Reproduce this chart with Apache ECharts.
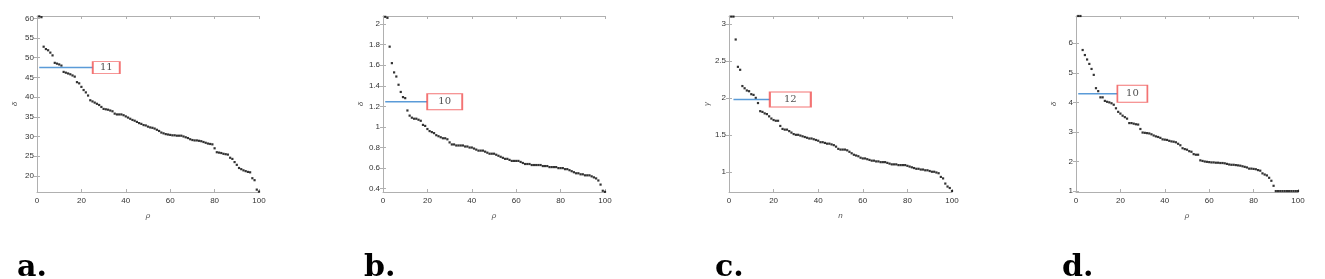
<!DOCTYPE html>
<html>
<head>
<meta charset="utf-8">
<title>decision graphs</title>
<script src="https://cdn.jsdelivr.net/npm/echarts@6/dist/echarts.min.js"></script>
<style>
  html, body { margin: 0; padding: 0; background: #fff; }
  #chart { width: 1325px; height: 279px; }
</style>
</head>
<body>
<div id="chart"></div>
<script>
// values, x = 1..100
var deltaA = [60.5, 60.3, 52.8, 52.2, 51.9, 51.3, 50.6, 48.7, 48.5, 48.3,
  48.0, 46.4, 46.2, 46.0, 45.8, 45.5, 45.2, 43.8, 43.5, 42.6,
  41.8, 41.2, 40.4, 39.2, 38.9, 38.6, 38.3, 38.0, 37.5, 37.0,
  36.9, 36.8, 36.6, 36.4, 35.8, 35.6, 35.6, 35.6, 35.4, 35.1,
  34.8, 34.5, 34.2, 34.0, 33.7, 33.4, 33.2, 32.9, 32.8, 32.5,
  32.3, 32.2, 32.0, 31.7, 31.4, 31.0, 30.8, 30.6, 30.5, 30.4,
  30.3, 30.3, 30.2, 30.2, 30.2, 30.0, 29.8, 29.6, 29.3, 29.1,
  29.0, 29.0, 28.9, 28.8, 28.6, 28.4, 28.2, 28.1, 28.0, 27.0,
  26.0, 25.9, 25.8, 25.6, 25.5, 25.4, 24.6, 24.3, 23.5, 22.8,
  22.0, 21.7, 21.4, 21.2, 21.0, 20.9, 19.4, 18.9, 16.5, 16.0]

var deltaB = [2.07, 2.06, 1.78, 1.62, 1.53, 1.49, 1.41, 1.34, 1.29, 1.28,
  1.16, 1.11, 1.09, 1.08, 1.08, 1.07, 1.06, 1.02, 1.01, 0.98,
  0.96, 0.95, 0.94, 0.92, 0.91, 0.90, 0.89, 0.89, 0.88, 0.85,
  0.83, 0.83, 0.82, 0.82, 0.82, 0.82, 0.81, 0.81, 0.80, 0.80,
  0.79, 0.78, 0.77, 0.77, 0.77, 0.76, 0.75, 0.74, 0.74, 0.74,
  0.73, 0.72, 0.71, 0.70, 0.69, 0.69, 0.68, 0.67, 0.67, 0.67,
  0.67, 0.66, 0.65, 0.64, 0.64, 0.64, 0.63, 0.63, 0.63, 0.63,
  0.63, 0.62, 0.62, 0.62, 0.61, 0.61, 0.61, 0.61, 0.60, 0.60,
  0.60, 0.59, 0.59, 0.58, 0.57, 0.56, 0.55, 0.55, 0.54, 0.54,
  0.53, 0.53, 0.53, 0.52, 0.51, 0.50, 0.48, 0.44, 0.38, 0.37]

var gammaC = [3.10, 3.10, 2.79, 2.42, 2.38, 2.16, 2.13, 2.10, 2.09, 2.05,
  2.04, 2.00, 1.93, 1.82, 1.81, 1.79, 1.78, 1.75, 1.72, 1.70,
  1.69, 1.69, 1.62, 1.58, 1.57, 1.57, 1.55, 1.53, 1.51, 1.50,
  1.50, 1.49, 1.48, 1.47, 1.46, 1.45, 1.45, 1.44, 1.43, 1.42,
  1.40, 1.40, 1.39, 1.38, 1.38, 1.37, 1.36, 1.34, 1.31, 1.30,
  1.30, 1.30, 1.29, 1.27, 1.25, 1.23, 1.22, 1.21, 1.19, 1.18,
  1.18, 1.17, 1.16, 1.15, 1.15, 1.14, 1.14, 1.13, 1.13, 1.13,
  1.12, 1.11, 1.10, 1.10, 1.10, 1.09, 1.09, 1.09, 1.09, 1.08,
  1.07, 1.06, 1.05, 1.04, 1.04, 1.03, 1.03, 1.02, 1.02, 1.01,
  1.00, 1.00, 0.99, 0.98, 0.93, 0.91, 0.84, 0.80, 0.78, 0.74]

var deltaD = [6.92, 6.92, 5.77, 5.60, 5.45, 5.30, 5.13, 4.93, 4.48, 4.38,
  4.17, 4.17, 4.05, 4.02, 4.00, 3.97, 3.92, 3.80, 3.68, 3.62,
  3.55, 3.50, 3.45, 3.30, 3.30, 3.28, 3.26, 3.25, 3.10, 2.98,
  2.97, 2.96, 2.95, 2.92, 2.88, 2.85, 2.83, 2.80, 2.75, 2.74,
  2.73, 2.70, 2.68, 2.67, 2.65, 2.60, 2.55, 2.45, 2.42, 2.40,
  2.35, 2.33, 2.25, 2.23, 2.23, 2.04, 2.02, 2.00, 1.99, 1.98,
  1.97, 1.97, 1.96, 1.96, 1.95, 1.95, 1.94, 1.92, 1.90, 1.89,
  1.89, 1.88, 1.87, 1.86, 1.84, 1.82, 1.80, 1.76, 1.76, 1.75,
  1.74, 1.71, 1.69, 1.60, 1.56, 1.53, 1.45, 1.35, 1.18, 1.00,
  1.00, 1.00, 1.00, 1.00, 1.00, 1.00, 1.00, 1.00, 1.00, 1.00]

var xTicks = [0, 20, 40, 60, 80, 100]
var yTicksA = [20, 25, 30, 35, 40, 45, 50, 55, 60]
var yTicksB = [0.4, 0.6, 0.8, 1, 1.2, 1.4, 1.6, 1.8, 2]
var yTicksC = [1, 1.5, 2, 2.5, 3]
var yTicksD = [1, 2, 3, 4, 5, 6]

// cut-off level marked by the blue line, and the number in the red box
var cutLevel = [47.5, 1.245, 1.978, 4.29]
var cutCount = ['11', '10', '12', '10']

var panelLetters = ['a.', 'b.', 'c.', 'd.']

var chart = echarts.init(document.getElementById('chart'))

var panels = [
  { data: deltaA, ticks: yTicksA, min: 15.9, max: 60.6, xName: 'ρ', yName: 'δ',
    left: 37, width: 222, lineFrom: 1, boxX: 31.2, box: [27, 12], letterX: 17 },
  { data: deltaB, ticks: yTicksB, min: 0.368, max: 2.078, xName: 'ρ', yName: 'δ',
    left: 383, width: 222, lineFrom: 1, boxX: 27.8, box: [35, 16], letterX: 364 },
  { data: gammaC, ticks: yTicksC, min: 0.726, max: 3.108, xName: 'n', yName: 'γ',
    left: 729, width: 223, lineFrom: 2, boxX: 27.5, box: [41, 15], letterX: 715 },
  { data: deltaD, ticks: yTicksD, min: 0.97, max: 6.92, xName: 'ρ', yName: 'δ',
    left: 1076, width: 222, lineFrom: 1, boxX: 25.4, box: [30, 17], letterX: 1062 }
]

var boxColor = '#b0b0b0'
var labelStyle = { fontSize: 8, color: '#333', fontFamily: 'Liberation Sans' }

var grid = [], xAxis = [], yAxis = [], series = [], graphic = []

panels.forEach(function (p, k) {
  grid.push({ left: p.left, top: 16, width: p.width, height: 176 })

  var xBase = {
    gridIndex: k, type: 'value', min: 0, max: 100, interval: 20,
    splitLine: { show: false },
    axisLine: { lineStyle: { color: boxColor, width: 1 } },
    axisTick: { inside: true, length: 3, lineStyle: { color: boxColor } }
  }
  xAxis.push(Object.assign({}, xBase, {
    position: 'bottom',
    name: p.xName, nameLocation: 'middle', nameGap: 20,
    nameTextStyle: { fontSize: 8, color: '#555', fontStyle: 'italic' },
    axisLabel: Object.assign({ margin: 5 }, labelStyle)
  }))
  xAxis.push(Object.assign({}, xBase, { position: 'top', axisLabel: { show: false } }))

  var yBase = {
    gridIndex: k, type: 'value', min: p.min, max: p.max,
    splitLine: { show: false },
    axisLine: { lineStyle: { color: boxColor, width: 1 } },
    axisTick: { inside: true, length: 3, customValues: p.ticks, lineStyle: { color: boxColor } }
  }
  yAxis.push(Object.assign({}, yBase, {
    position: 'left',
    name: p.yName, nameLocation: 'middle', nameGap: 18,
    nameTextStyle: { fontSize: 8, color: '#555', fontStyle: 'italic' },
    axisLabel: Object.assign({ margin: 3, customValues: p.ticks }, labelStyle)
  }))
  yAxis.push(Object.assign({}, yBase, { position: 'right', axisLabel: { show: false } }))

  series.push({
    type: 'scatter', xAxisIndex: 2 * k, yAxisIndex: 2 * k,
    symbol: 'rect', symbolSize: 2.2,
    itemStyle: { color: '#000' },
    data: p.data.map(function (v, i) { return [i + 1, v] })
  })
  // blue cut-off line up to the box
  series.push({
    type: 'line', xAxisIndex: 2 * k, yAxisIndex: 2 * k,
    symbol: 'none', silent: true,
    lineStyle: { color: '#5a9bd8', width: 1.5 },
    data: [[p.lineFrom, cutLevel[k]], [p.boxX - p.box[0] / 2 / (p.width / 100), cutLevel[k]]]
  })
  series.push({
    type: 'scatter', xAxisIndex: 2 * k, yAxisIndex: 2 * k,
    symbol: 'rect', symbolSize: p.box, silent: true, z: 5,
    itemStyle: { color: '#fff', borderColor: '#f05050', borderWidth: 1.3 },
    label: {
      show: true, position: 'inside', formatter: cutCount[k],
      fontFamily: 'DejaVu Serif', fontSize: 10, color: '#222'
    },
    data: [[p.boxX, cutLevel[k]]]
  })

  graphic.push({
    type: 'text', left: p.letterX, top: 253,
    style: { text: panelLetters[k], font: 'bold 30px "DejaVu Serif"', fill: '#000' }
  })
})

chart.setOption({
  animation: false,
  grid: grid,
  xAxis: xAxis,
  yAxis: yAxis,
  series: series,
  graphic: graphic
})
</script>
</body>
</html>
